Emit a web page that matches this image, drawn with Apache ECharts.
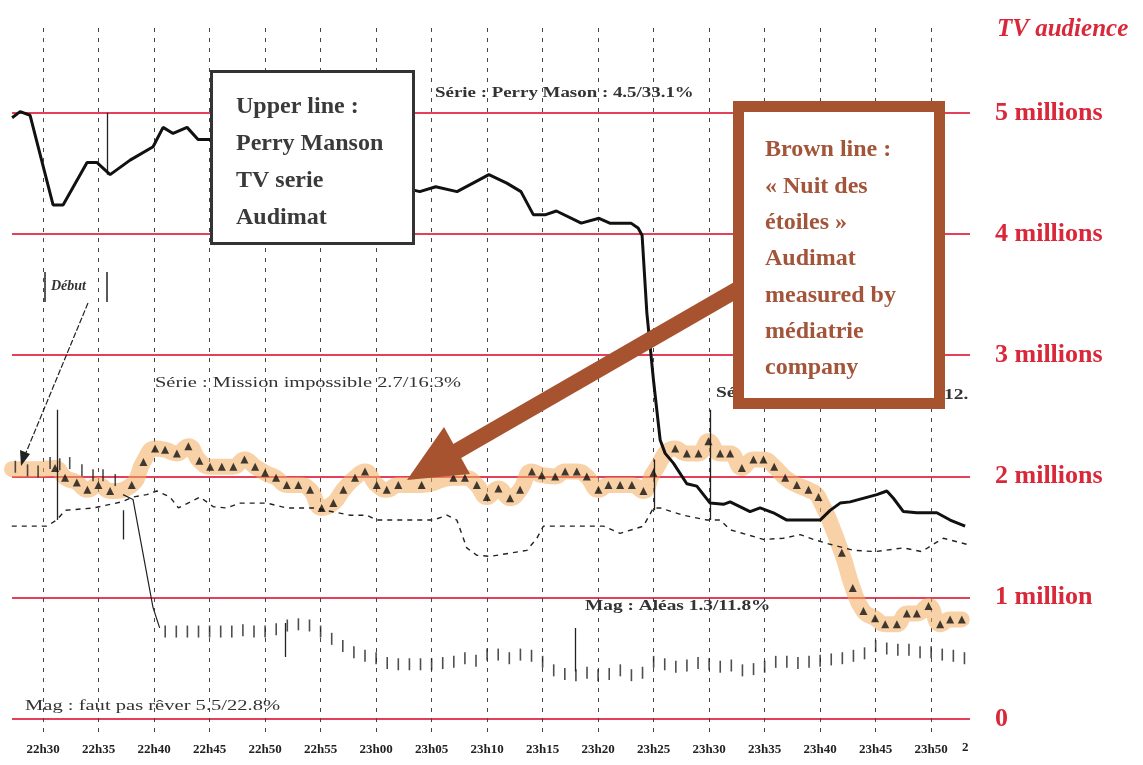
<!DOCTYPE html>
<html>
<head>
<meta charset="utf-8">
<script src="https://cdn.jsdelivr.net/npm/echarts@6/dist/echarts.min.js"></script>
<style>html,body{margin:0;padding:0;background:#fff}#c{width:1143px;height:765px}</style>
</head>
<body>
<div id="c"></div>
<script>
// x values are minutes after 22h30
const tickMinutes = [0,5,10,15,20,25,30,35,40,45,50,55,60,65,70,75,80];
const tickLabels = ["22h30","22h35","22h40","22h45","22h50","22h55","23h00","23h05","23h10","23h15","23h20","23h25","23h30","23h35","23h40","23h45","23h50"];
const audienceTicks = [0,1,2,3,4,5];
const audienceLabels = ["0","1 million","2 millions","3 millions","4 millions","5 millions"];

// Perry Mason (upper black line), millions
const perryMason = [[-2.79,4.96],[-2.07,5.01],[-1.17,4.98],[0.90,4.24],[1.80,4.24],[3.96,4.59],[4.86,4.59],[6.04,4.49],[7.84,4.61],[9.91,4.72],[10.81,4.88],[11.71,4.83],[12.97,4.88],[13.96,4.78],[15.05,4.78],
 [33.93,4.35],[35.37,4.39],[37.29,4.35],[40.16,4.49],[41.77,4.42],[43.05,4.35],[44.16,4.16],[45.28,4.16],[46.24,4.19],[48.48,4.09],[50.08,4.13],[51.05,4.09],[52.96,4.09],[53.6,4.05],[53.96,3.99],
 [54.39,3.35],[54.98,2.80],[55.59,2.30],[56.04,2.19],[56.78,2.11],[57.99,1.94],[58.89,1.92],[60.09,1.78],[61.29,1.77],[61.89,1.79],[63.69,1.71],[64.59,1.74],[65.79,1.70],[67.0,1.64],[70.0,1.64],[70.9,1.72],[71.8,1.78],[72.7,1.79],[75.11,1.85],[76.01,1.88],[76.6,1.82],[77.5,1.71],[78.71,1.70],[80.51,1.70],[81.71,1.64],[83.06,1.59]];

// "Nuit des étoiles" (brown band with triangles)
const nuitStart = [[-2.8,2.06],[-0.5,2.06]];
const nuitEtoiles = [[1.08,2.07],[1.98,1.99],[3.04,1.95],[3.99,1.89],[4.98,1.93],[6.04,1.88],[7.99,1.93],[9.04,2.12],[10.09,2.23],[10.99,2.22],[12.05,2.19],[13.09,2.25],[14.08,2.13],[15.05,2.08],[16.1,2.08],[17.14,2.08],[18.14,2.14],[19.1,2.08],[20.0,2.03],[20.99,1.99],[21.95,1.93],[23.0,1.93],[24.05,1.89],[25.1,1.74],[26.15,1.78],[27.05,1.89],[28.1,1.99],[29.0,2.04],[30.06,1.93],[30.96,1.89],[32.0,1.93],[34.1,1.93],[36.96,1.99],[38.0,1.99],[39.07,1.93],[39.97,1.83],[41.02,1.90],[42.07,1.82],[42.97,1.89],[44.03,2.04],[44.93,2.01],[46.13,2.0],[47.03,2.04],[48.08,2.04],[48.98,2.0],[50.03,1.89],[50.93,1.93],[51.98,1.93],[53.04,1.93],[54.08,1.88],[54.98,2.03],[56.94,2.23],[57.99,2.19],[59.04,2.19],[59.94,2.29],[60.99,2.19],[61.89,2.19],[62.95,2.07],[63.99,2.14],[64.89,2.14],[65.86,2.08],[66.85,1.99],[67.9,1.93],[68.95,1.89],[69.85,1.83],[71.95,1.37],[72.94,1.08],[73.9,0.89],[74.95,0.83],[75.86,0.78],[76.91,0.78],[77.81,0.87],[78.71,0.87],[79.76,0.93],[80.81,0.78],[81.71,0.82],[82.76,0.82]];

// dashed thin line (other channel)
const dashedLine = [[-2.82,1.59],[0.33,1.59],[1.23,1.64],[1.98,1.72],[4.53,1.74],[7.09,1.79],[8.11,1.83],[9.34,1.85],[10.24,1.88],[11.44,1.83],[12.19,1.74],[14.14,1.83],[15.34,1.75],[16.55,1.74],[17.75,1.78],[20.15,1.78],[21.95,1.74],[24.35,1.74],[27.66,1.68],[29.16,1.68],[30.06,1.64],[32.16,1.64],[35.16,1.64],[36.37,1.68],[37.27,1.64],[38.17,1.41],[39.07,1.35],[40.27,1.34],[43.58,1.39],[44.48,1.49],[45.07,1.59],[47.48,1.59],[50.48,1.59],[51.98,1.53],[54.08,1.59],[54.98,1.74],[55.59,1.74],[57.68,1.68],[59.79,1.64],[60.99,1.64],[61.89,1.56],[63.4,1.52],[64.89,1.48],[66.69,1.49],[68.2,1.52],[69.4,1.48],[70.9,1.44],[73.0,1.39],[74.95,1.38],[77.5,1.41],[79.16,1.38],[80.36,1.45],[81.1,1.49],[83.2,1.44]];

// tick-mark series (Mag)
const magTicks = [[-2.5,2.08],[-1.4,2.05],[-0.45,2.04],[0.63,2.11],[1.5,2.10],[2.4,2.11],[3.5,2.05],[4.5,2.01],[5.4,2.01],[6.5,1.97],
 [11,0.72],[12,0.72],[13,0.72],[14,0.72],[15,0.72],[16,0.72],[17,0.72],[18,0.73],[19,0.72],[20,0.72],[21,0.74],[22,0.77],[23,0.78],[24,0.77],[25,0.72],[26,0.66],[27,0.60],[28,0.55],[29,0.52],[30,0.50],[31,0.46],[32,0.45],[33,0.45],[34,0.45],[35,0.45],[36,0.46],[37,0.47],[38,0.50],[39,0.48],[40,0.53],[41,0.53],[42,0.50],[43,0.53],[44,0.52],[45,0.47],[46,0.40],[47,0.37],[48,0.36],[49,0.38],[50,0.36],[51,0.37],[52,0.40],[53,0.36],[54,0.38],[55,0.47],[56,0.45],[57,0.43],[58,0.44],[59,0.46],[60,0.45],[61,0.43],[62,0.44],[63,0.40],[64,0.41],[65,0.43],[66,0.47],[67,0.47],[68,0.46],[69,0.47],[70,0.48],[71,0.49],[72,0.50],[73,0.52],[74,0.54],[75,0.60],[76,0.58],[77,0.57],[78,0.57],[79,0.55],[80,0.55],[81,0.53],[82,0.52],[83,0.50]];
const magLink = [[7.2,1.85],[8.1,1.81],[9.9,0.92],[10.5,0.75]];

// thin vertical marker segments [minute, from, to]
const markers = [[5.77,5.0,4.49],[1.26,2.55,1.64],[7.2,1.72,1.48],[55.1,2.14,1.72],[60.1,2.55,1.64],[47.9,0.75,0.39],[21.8,0.79,0.51]];

const RED = '#d8283a';
const chart = echarts.init(document.getElementById('c'), null, {renderer:'canvas'});
const serif = 'Liberation Serif';

function note(x, y, text, size, bold, sx) {
  return {type:'text', x:x, y:y, scaleX:sx, z:50,
    style:{text:text, font:(bold?'bold ':'')+size+'px Liberation Serif', fill:'#333', textVerticalAlign:'top'}};
}

chart.setOption({
  animation:false,
  backgroundColor:'#fff',
  grid:{left:12, right:173, top:28, bottom:28, containLabel:false},
  xAxis:{type:'value', min:-2.8, max:83.5,
    axisLine:{show:false},
    axisTick:{show:false, customValues:tickMinutes},
    axisLabel:{customValues:tickMinutes, margin:6, fontFamily:serif, fontWeight:'bold', fontSize:13, color:'#222',
      formatter:function(v){const i=tickMinutes.indexOf(Math.round(v));return i>=0?tickLabels[i]:'';}},
    splitLine:{show:true, lineStyle:{color:'#444', width:1, type:[4,6]}}
  },
  yAxis:{type:'value', position:'right', min:-0.15, max:5.7,
    axisLine:{show:false},
    axisTick:{show:false, customValues:audienceTicks},
    axisLabel:{customValues:audienceTicks, margin:25, fontFamily:serif, fontWeight:'bold', fontSize:26, color:RED,
      formatter:function(v){const i=audienceTicks.indexOf(Math.round(v));return i>=0?audienceLabels[i]:'';}},
    splitLine:{show:true, lineStyle:{color:'#e5405a', width:2.2}}
  },
  title:{text:'TV audience', left:992, top:12, textStyle:{fontFamily:serif, fontStyle:'italic', fontWeight:'bold', fontSize:25, color:RED}},
  series:[
    {type:'line', data:nuitStart.concat(nuitEtoiles), smooth:0.5, symbol:'none', z:2,
     lineStyle:{width:16, color:'rgba(242,172,92,0.55)', cap:'round', join:'round'}},
    {type:'line', data:dashedLine, symbol:'none', z:3, lineStyle:{width:1.4, color:'#222', type:[5,5]}},
    {type:'line', data:magLink, symbol:'none', z:3, lineStyle:{width:1.2, color:'#222'}},
    {type:'scatter', data:magTicks, symbol:'rect', symbolSize:[1.6,12], itemStyle:{color:'#222'}, z:3},
    {type:'lines', coordinateSystem:'cartesian2d', z:3,
     data:markers.map(m=>({coords:[[m[0],m[1]],[m[0],m[2]]]})), lineStyle:{color:'#222', width:1.3, opacity:1}},
    {type:'line', data:perryMason, symbol:'none', z:4, lineStyle:{width:3, color:'#111'}},
    {type:'scatter', data:nuitEtoiles, symbol:'triangle', symbolSize:8, itemStyle:{color:'#111'}, z:5}
  ],
  graphic:[
    note(435, 86, 'Série : Perry Mason : 4.5/33.1%', 14, true, 1.35),
    note(155, 376, 'Série : Mission impossible 2.7/16.3%', 15, false, 1.36),
    note(716, 386, 'Série', 15, true, 1.3),
    note(944, 388, '12.', 15, true, 1.3),
    note(585, 599, 'Mag : Aléas 1.3/11.8%', 15, true, 1.29),
    note(25, 699, 'Mag : faut pas rêver 5.5/22.8%', 15, false, 1.37),
    {type:'text', x:962, y:741, z:50, style:{text:'2', font:'bold 13px Liberation Serif', fill:'#222', textVerticalAlign:'top'}},
    // Début marker
    {type:'line', z:50, shape:{x1:45,y1:272,x2:45,y2:302}, style:{stroke:'#222', lineWidth:1.5}},
    {type:'line', z:50, shape:{x1:107,y1:272,x2:107,y2:302}, style:{stroke:'#222', lineWidth:1.5}},
    {type:'text', x:51, y:279, z:50, style:{text:'Début', font:'italic bold 14px Liberation Serif', fill:'#333', textVerticalAlign:'top'}},
    {type:'line', z:50, shape:{x1:88,y1:303,x2:25,y2:455}, style:{stroke:'#222', lineWidth:1.2, lineDash:[6,2]}},
    {type:'polygon', z:50, shape:{points:[[21,466],[20,450],[30,454]]}, style:{fill:'#222'}},
    // Upper box
    {type:'rect', z:100, shape:{x:211.5, y:71.5, width:202, height:172}, style:{fill:'#fff', stroke:'#333', lineWidth:3}},
    {type:'text', z:101, x:236, y:88, style:{text:'Upper line :\nPerry Manson\nTV serie\nAudimat', font:'bold 24px Liberation Serif', fill:'#3a3a3a', lineHeight:37, textVerticalAlign:'top'}},
    // Brown arrow
    {type:'line', z:90, shape:{x1:740,y1:288,x2:452,y2:454}, style:{stroke:'#a8532f', lineWidth:16}},
    {type:'polygon', z:90, shape:{points:[[407,480],[470,474],[444,427]]}, style:{fill:'#a8532f'}},
    // Brown box
    {type:'rect', z:100, shape:{x:738.5, y:106.5, width:201, height:297}, style:{fill:'#fff', stroke:'#a8532f', lineWidth:11}},
    {type:'text', z:101, x:765, y:132, style:{text:'Brown line :\n« Nuit des\nétoiles »\nAudimat\nmeasured by\nmédiatrie\ncompany', font:'bold 24px Liberation Serif', fill:'#a3553a', lineHeight:36.3, textVerticalAlign:'top'}}
  ]
});
</script>
</body>
</html>
